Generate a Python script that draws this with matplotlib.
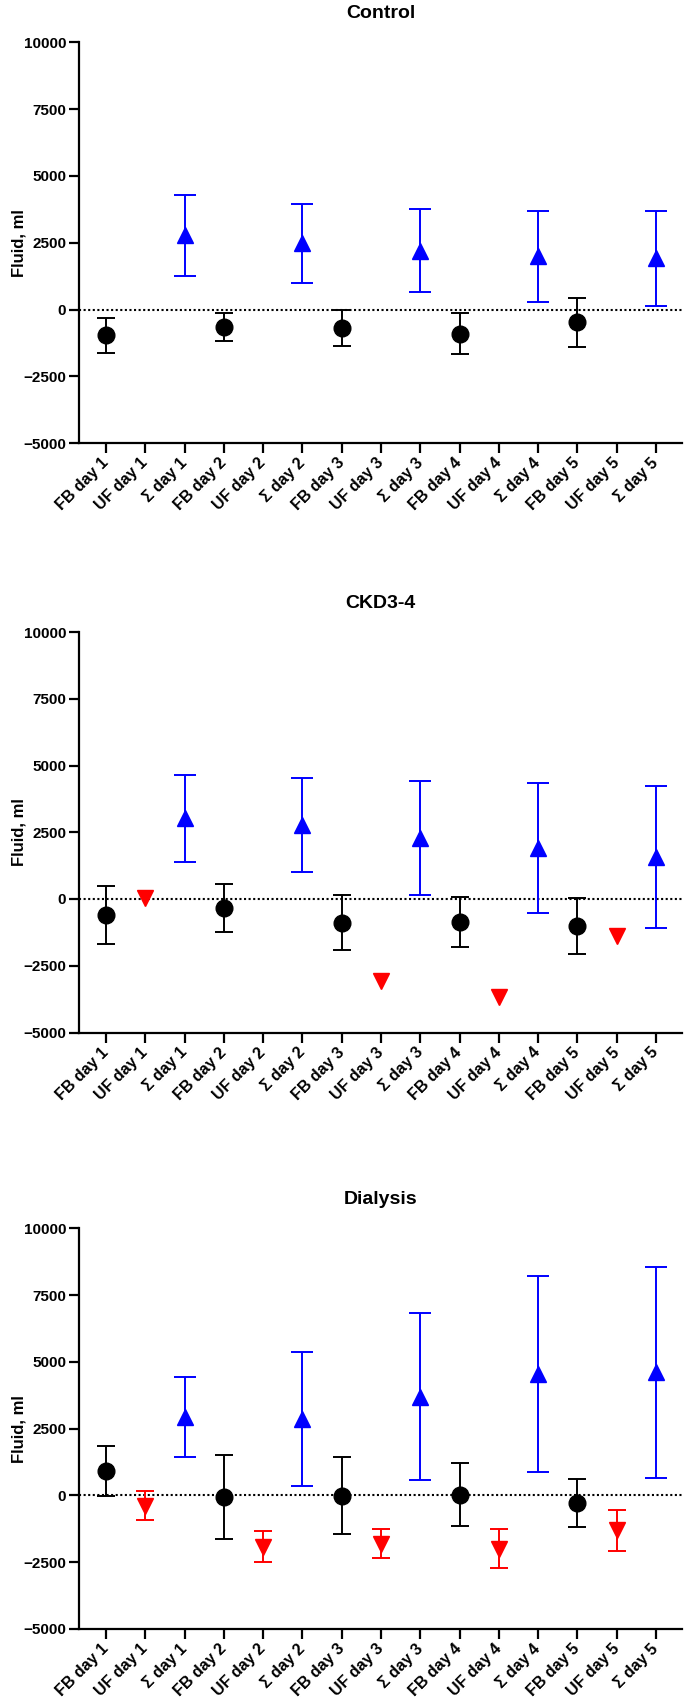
import numpy as np
import matplotlib
matplotlib.use("Agg")
import matplotlib.pyplot as plt

plt.rcParams['font.family'] = ['Liberation Sans', 'DejaVu Sans']
plt.rcParams['font.weight'] = 'bold'

days = [1, 2, 3, 4, 5]
categories = []
for d in days:
    categories += ['FB day %d' % d, 'UF day %d' % d, '\u03a3 day %d' % d]

panel_titles = ['Control', 'CKD3-4', 'Dialysis']

# mean and SD per day (ml); nan = not shown
ctrl_fb = [-966, -655, -698, -898, -480]
ctrl_fb_sd = [655, 530, 673, 773, 916]
ctrl_uf = [np.nan] * 5
ctrl_uf_sd = [np.nan] * 5
ctrl_sum = [2787, 2475, 2207, 1995, 1920]
ctrl_sum_sd = [1515, 1465, 1559, 1696, 1770]

ckd_fb = [-599, -343, -886, -861, -999]
ckd_fb_sd = [1086, 905, 1023, 936, 1049]
ckd_uf = [20, np.nan, -3065, -3658, -1386]
ckd_uf_sd = [np.nan] * 5
ckd_sum = [3020, 2777, 2271, 1921, 1572]
ckd_sum_sd = [1622, 1753, 2134, 2433, 2658]

dia_fb = [918, -56, -12, 25, -275]
dia_fb_sd = [942, 1566, 1435, 1173, 898]
dia_uf = [-387, -1915, -1803, -1990, -1310]
dia_uf_sd = [549, 592, 530, 717, 761]
dia_sum = [2933, 2858, 3700, 4536, 4605]
dia_sum_sd = [1485, 2496, 3138, 3663, 3944]

panels = [
    (ctrl_fb, ctrl_fb_sd, ctrl_uf, ctrl_uf_sd, ctrl_sum, ctrl_sum_sd),
    (ckd_fb, ckd_fb_sd, ckd_uf, ckd_uf_sd, ckd_sum, ckd_sum_sd),
    (dia_fb, dia_fb_sd, dia_uf, dia_uf_sd, dia_sum, dia_sum_sd),
]

W, H = 685, 1697
fig = plt.figure(figsize=(W / 100, H / 100), dpi=100)

# axes boxes in pixels: (top, bottom)
boxes = [(42.3, 443.3), (632.0, 1032.5), (1228.3, 1629.0)]
left_px, right_px = 79.3, 682.0

idx = np.arange(5) * 3

for (top, bot), title, data in zip(boxes, panel_titles, panels):
    ax = fig.add_axes([left_px / W, 1 - bot / H, (right_px - left_px) / W, (bot - top) / H])
    fb, fb_sd, uf, uf_sd, sm, sm_sd = data

    ax.axhline(0, color='black', lw=1.5, linestyle=(0, (1, 1.2)), zorder=1)

    ax.errorbar(idx, fb, yerr=fb_sd, fmt='o', color='black', ms=12,
                capsize=6.5, capthick=1.4, elinewidth=1.4, zorder=3)
    ax.errorbar(idx + 1, uf, yerr=uf_sd, fmt='v', color='red', ms=11,
                capsize=6.5, capthick=1.4, elinewidth=1.4, zorder=3)
    ax.errorbar(idx + 2, sm, yerr=sm_sd, fmt='^', color='blue', ms=12,
                capsize=8.2, capthick=1.4, elinewidth=1.4, zorder=3)

    ax.set_xlim(-0.68, 14.66)
    ax.set_ylim(-5000, 10000)
    ax.set_yticks(np.arange(-5000, 10001, 2500))
    ax.set_xticks(np.arange(len(categories)))
    ax.set_xticklabels(categories, rotation=45, ha='right', va='center',
                       rotation_mode='anchor', fontsize=11.5, fontweight='bold')
    for lab in ax.get_yticklabels():
        lab.set_fontsize(11)
        lab.set_fontweight('bold')

    for s in ['top', 'right']:
        ax.spines[s].set_visible(False)
    for s in ['left', 'bottom']:
        ax.spines[s].set_linewidth(1.6)
    ax.tick_params(axis='both', length=7.5, width=1.6, pad=2)
    ax.tick_params(axis='x', pad=5)

    ax.set_ylabel('Fluid, ml', fontsize=12, fontweight='bold')
    ax.yaxis.set_label_coords(-0.087, 0.5)
    ax.set_title(title, fontsize=14, fontweight='bold', pad=17.5)

fig.savefig('out.png', dpi=100)
